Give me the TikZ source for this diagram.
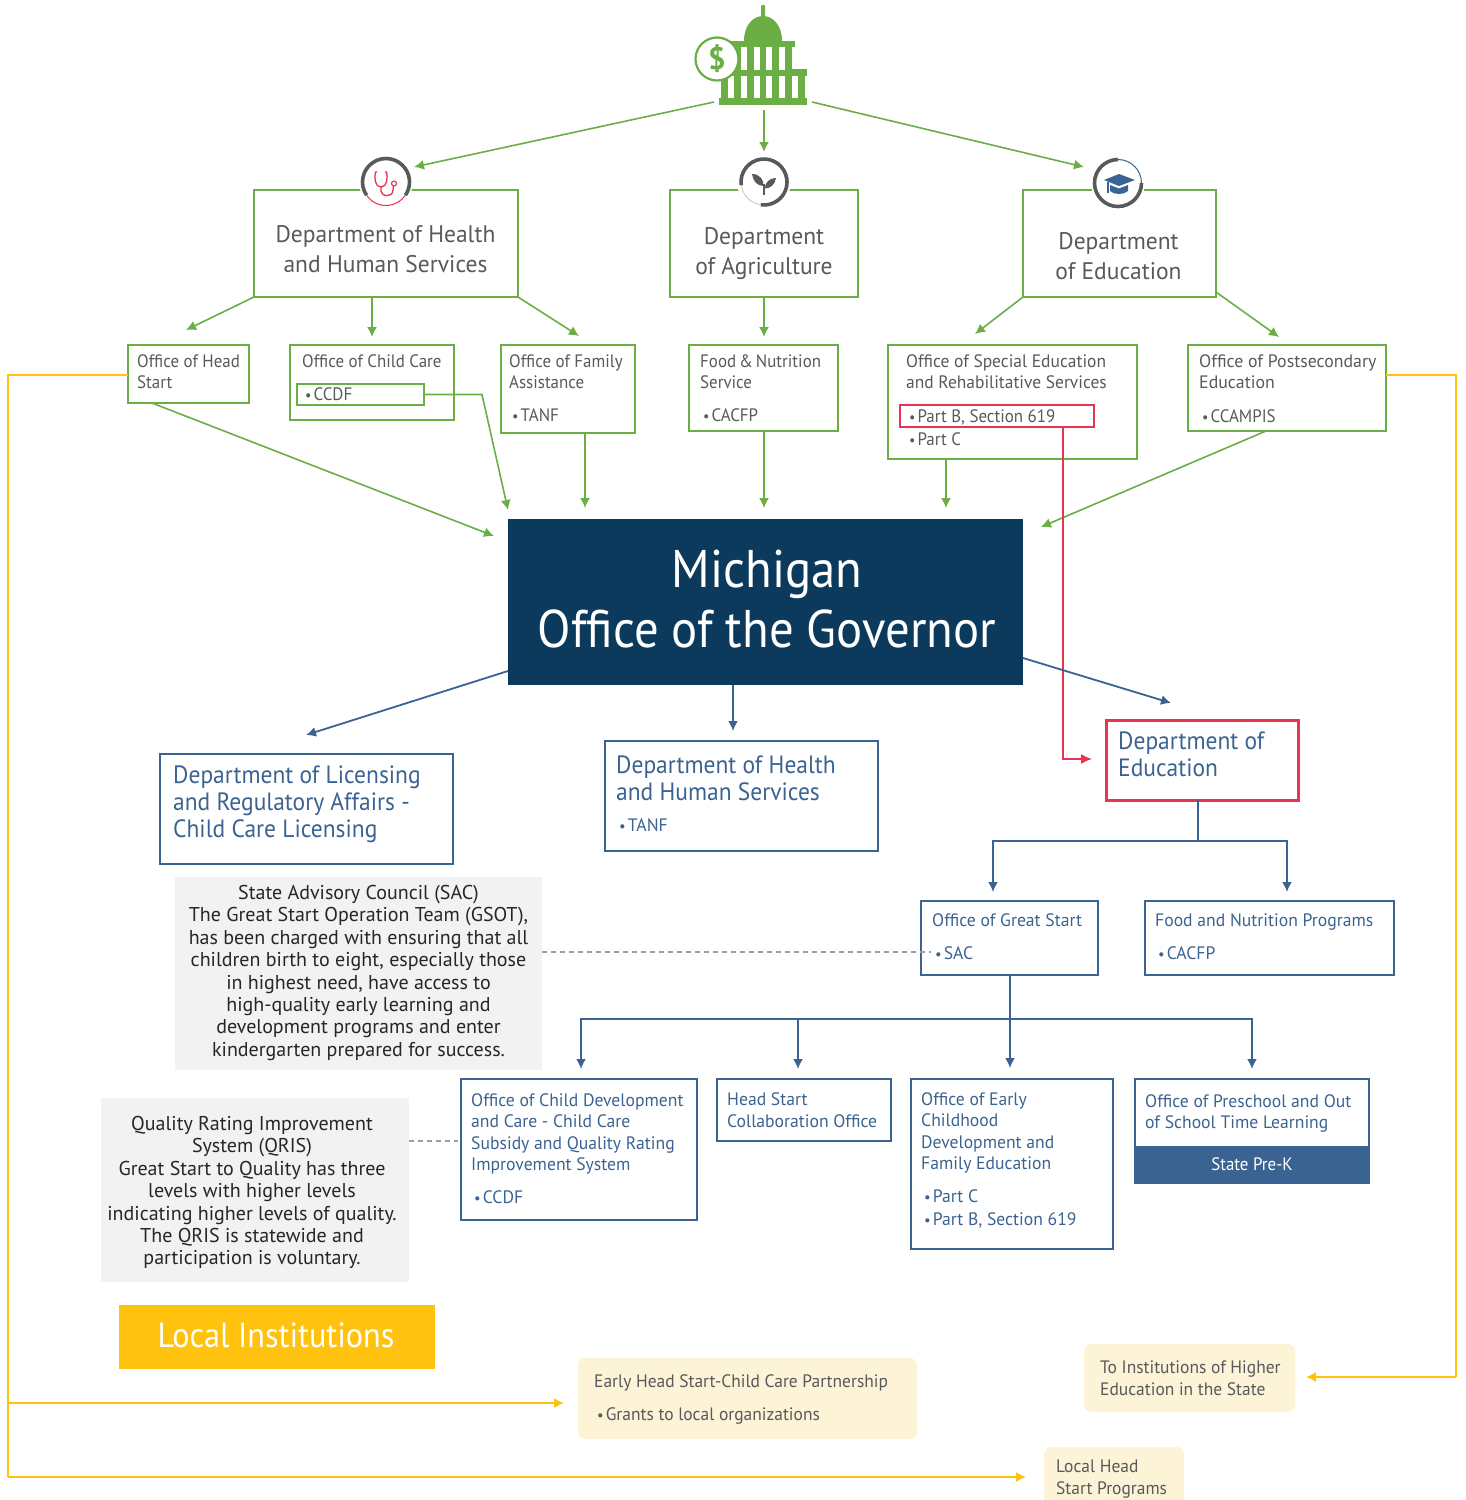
\documentclass[tikz,border=0pt]{standalone}
\usepackage{fontspec}
\setmainfont{PT Sans}
\newfontfamily\condA[FakeStretch=0.94]{PT Sans}
\newfontfamily\condB[FakeStretch=0.92]{PT Sans}
\newfontfamily\condC[FakeStretch=0.98]{PT Sans}
\newfontfamily\condD[FakeStretch=0.97]{PT Sans}
\newfontfamily\condE[FakeStretch=0.99]{PT Sans}
\usetikzlibrary{arrows.meta,calc}
\definecolor{grn}{HTML}{6AAE45}
\definecolor{gtx}{HTML}{58595B}
\definecolor{blu}{HTML}{3A6391}
\definecolor{navy}{HTML}{0B3A5C}
\definecolor{redd}{HTML}{E8344E}
\definecolor{yel}{HTML}{FFC20E}
\definecolor{crm}{HTML}{FDF3D7}
\definecolor{gry}{HTML}{F2F2F2}
\newcommand{\fsz}[2]{\fontsize{#1}{#2}\selectfont}
\newcommand{\bu}{{\fsz{15}{15}•}\hspace{2pt}}
\newcommand{\bx}[6]{\node[#6,anchor=north west,inner sep=0pt,outer sep=0pt,minimum width=\dimexpr #4pt-#2pt\relax,minimum height=\dimexpr #5pt-#3pt\relax] (#1) at (#2,#3) {};}
\tikzset{
 x=1pt,y=-1pt,
 gbox/.style={draw=grn,line width=2.4pt},
 gboxs/.style={draw=grn,line width=1.8pt},
 bbox/.style={draw=blu,line width=2.1pt},
 rbox/.style={draw=redd,line width=2pt},
 bigred/.style={draw=redd,line width=3pt},
 gfill/.style={fill=gry},
 cream/.style={fill=crm,rounded corners=7pt},
 gln/.style={draw=grn,line width=1.6pt,-{Latex[length=10pt,width=10pt]}},
 bln/.style={draw=blu,line width=1.8pt,-{Latex[length=10pt,width=10pt]}},
 rln/.style={draw=redd,line width=1.5pt,-{Latex[length=11pt,width=10pt]}},
 yln/.style={draw=yel,line width=1.7pt,-{Latex[length=10pt,width=10pt]}},
 bpl/.style={draw=blu,line width=1.8pt},
 ypl/.style={draw=yel,line width=1.7pt},
 dash gray/.style={draw=black!38,line width=2.4pt,dash pattern=on 5pt off 4pt},
 gsm/.style={text=gtx,font=\condA\fsz{18}{21.5},align=left,anchor=north west,inner sep=0pt},
 bsm/.style={text=blu,font=\condC\fsz{18}{21.6},align=left,anchor=north west,inner sep=0pt},
 dtx/.style={text=gtx,font=\condC\fsz{24}{30},align=center,anchor=center,inner sep=0pt},
 btx/.style={text=blu,font=\condA\fsz{25}{27},align=left,anchor=north west,inner sep=0pt},
 ctx/.style={text=black!85,font=\fsz{20}{22.4},align=center,anchor=north,inner sep=0pt},
 ic/.style={fill=white,draw=none},
 thk/.style={draw=gtx,line width=3.6pt},
}
\begin{document}
\begin{tikzpicture}
\useasboundingbox (0,0) rectangle (1466,1500);
% capitol icon
\fill[grn,rounded corners=1pt] (761,5) rectangle (765,20);
\fill[grn] (744,41) .. controls (744,24) and (754,16) .. (763,16) .. controls (772,16) and (782,24) .. (782,41) -- cycle;
\fill[grn] (731,41) rectangle (795,47);
\fill[grn] (731,47) rectangle (792,70);
\fill[grn] (730,69) rectangle (807,76);
\fill[grn] (721,76) rectangle (805,98);
\fill[grn] (719,98) rectangle (807,105);
\foreach \a in {741,753.5,766,779}{\fill[white] (\a,47) rectangle ++(6,22.5);}
\foreach \a in {727.5,740.5,753.5,766,779,792}{\fill[white] (\a,76) rectangle ++(6,22);}
\node[circle,draw=grn,line width=2.2pt,fill=white,minimum size=43pt,inner sep=0pt,text=grn,font=\fsz{31}{31}\bfseries] (capitol) at (717,59) {\$};
% green departments
\bx{hhs}{254}{190}{518}{297}{gbox}
\bx{agr}{670}{190}{858}{297}{gbox}
\bx{edu}{1023}{190}{1216}{297}{gbox}
\node[dtx] (hhst) at (385.5,249) {Department of Health\\and Human Services};
\node[dtx] (agrt) at (764,254) {Department\\of Agriculture};
\node[dtx] (edut) at (1118.5,256) {Department\\of Education};
% icons
\node[ic,circle,minimum size=54pt,inner sep=0pt] (ichhs) at (386,182) {};
\draw[thk] ($(ichhs.center)+(214:23.5pt)$) arc[start angle=214,end angle=-34,radius=23.5pt];
\draw[redd,line width=1pt] ($(ichhs.center)+(214:23.5pt)$) arc[start angle=214,end angle=326,radius=23.5pt];
\draw[redd,line width=1.3pt] (377,172) -- (375.5,172) .. controls (374,178) and (375,187) .. (381,187) .. controls (387,187) and (388,178) .. (386.5,172) -- (385,172);
\draw[redd,line width=1.3pt] (381,187) -- (381,191) .. controls (381,197) and (393,198) .. (393,190) -- (393.5,186);
\draw[redd,line width=1.1pt] (394,183.5) circle (2.5pt);
% agri icon
\node[ic,circle,minimum size=54pt,inner sep=0pt] (icagr) at (764,182) {};
\draw[black!20,line width=1pt] (icagr.center) circle (23pt);
\draw[thk] ($(icagr.center)+(188:23pt)$) arc[start angle=188,end angle=-98,radius=23pt];
\fill[gtx] (752,174) .. controls (760,174) and (764,180) .. (763.5,186) .. controls (757,186) and (753,181) .. (752,174) -- cycle;
\fill[gtx] (776,178) .. controls (770,178) and (765,182) .. (764.8,188.5) .. controls (771,188.5) and (775,184) .. (776,178) -- cycle;
\fill[gtx] (763.4,184) rectangle (765,195);
% education icon
\node[ic,circle,minimum size=54pt,inner sep=0pt] (icedu) at (1118,183) {};
\draw[blu,line width=1pt] ($(icedu.center)+(90:23.5pt)$) arc[start angle=90,end angle=0,radius=23.5pt];
\draw[thk] ($(icedu.center)+(90:23.5pt)$) arc[start angle=90,end angle=360,radius=23.5pt];
\fill[blu] (1104,180) -- (1119,174) -- (1135,180) -- (1119,186) -- cycle;
\fill[blu] (1110,185) -- (1119,188.5) -- (1128,185) -- (1128,191) .. controls (1124,195) and (1114,195) .. (1110,191) -- cycle;
\draw[blu,line width=1.2pt] (1108,182) -- (1108,193);
% green small boxes
\bx{hs}{128}{345}{249}{403}{gboxs}
\bx{cc}{290}{345}{454}{420}{gboxs}
\bx{ccdf}{297}{384}{424}{405}{gboxs}
\bx{fam}{501}{345}{635}{433}{gboxs}
\bx{food}{689}{345}{838}{431}{gboxs}
\bx{sped}{888}{345}{1137}{459}{gboxs}
\bx{partb}{900}{405}{1094}{427}{rbox}
\bx{post}{1188}{345}{1386}{431}{gboxs}
\node[gsm] (hst) at (137,354) {Office of Head\\Start};
\node[gsm] (cct) at (302,354) {Office of Child Care};
\node[gsm] (ccdft) at (305,387) {\bu CCDF};
\node[gsm] (famt) at (509,354) {Office of Family\\Assistance};
\node[gsm] (famb) at (512,408) {\bu TANF};
\node[gsm] (foodt) at (700,354) {Food\,\&\,Nutrition\\Service};
\node[gsm] (foodb) at (703,408) {\bu CACFP};
\node[gsm,font=\condD\fsz{18}{21.5}] (spedt) at (906,354) {Office of Special Education\\and Rehabilitative Services};
\node[gsm] (partbt) at (909,409) {\bu Part B, Section 619};
\node[gsm] (partc) at (909,432) {\bu Part C};
\node[gsm,font=\condE\fsz{18}{21.5}] (postt) at (1199,354) {Office of Postsecondary\\Education};
\node[gsm] (postb) at (1202,409) {\bu CCAMPIS};
% governor
\bx{gov}{508}{519}{1023}{685}{fill=navy}
\node[text=white,font=\condB\fsz{53}{60},align=center,inner sep=0pt] (govt) at (767,599) {Michigan\\Office of the Governor};
% blue boxes
\bx{lic}{160}{754}{453}{864}{bbox}
\bx{hhsb}{605}{741}{878}{851}{bbox}
\bx{deb}{1106}{720}{1298}{800}{bigred}
\bx{gs}{921}{901}{1098}{975}{bbox}
\bx{fn}{1145}{901}{1394}{975}{bbox}
\bx{cd}{461}{1079}{697}{1220}{bbox}
\bx{hsc}{717}{1079}{891}{1141}{bbox}
\bx{early}{911}{1079}{1113}{1249}{bbox}
\bx{pre}{1135}{1079}{1369}{1183}{bbox}
\bx{prek}{1135}{1146}{1369}{1183}{fill=blu}
\node[btx] (lict) at (173,765.5) {Department of Licensing\\and Regulatory Affairs -\\Child Care Licensing};
\node[btx] (hhsbt) at (616,756) {Department of Health\\and Human Services};
\node[bsm] (hhsbb) at (619,818) {\bu TANF};
\node[btx] (debt) at (1118,732) {Department of\\Education};
\node[bsm] (gst) at (932,913) {Office of Great Start};
\node[bsm] (gsb) at (935,946) {\bu SAC};
\node[bsm] (fnt) at (1155,913) {Food and Nutrition Programs};
\node[bsm] (fnb) at (1158,946) {\bu CACFP};
\node[bsm] (cdt) at (471,1093) {Office of Child Development\\and Care - Child Care\\Subsidy and Quality Rating\\Improvement System};
\node[bsm] (cdb) at (474,1190) {\bu CCDF};
\node[bsm] (hsct) at (727,1092.5) {Head Start\\Collaboration Office};
\node[bsm] (earlyt) at (921,1092) {Office of Early\\Childhood\\Development and\\Family Education};
\node[bsm,font=\condC\fsz{18}{23}] (earlyb) at (924,1189) {\bu Part C\\\bu Part B, Section 619};
\node[bsm] (pret) at (1145,1094) {Office of Preschool and Out\\of School Time Learning};
\node[text=white,font=\condA\fsz{18}{21},inner sep=0pt] (prekt) at (1252,1164) {State Pre-K};
% gray callouts
\bx{sac}{175}{877}{542}{1070}{gfill}
\bx{qris}{101}{1098}{409}{1282}{gfill}
\node[ctx] (sact) at (358.5,885) {State Advisory Council (SAC)\\The Great Start Operation Team (GSOT),\\has been charged with ensuring that all\\children birth to eight, especially those\\in highest need, have access to\\high-quality early learning and\\development programs and enter\\kindergarten prepared for success.};
\node[ctx] (qrist) at (252,1116) {Quality Rating Improvement\\System (QRIS)\\Great Start to Quality has three\\levels with higher levels\\indicating higher levels of quality.\\The QRIS is statewide and\\participation is voluntary.};
% local
\bx{loc}{119}{1305}{435}{1369}{fill=yel}
\node[text=white,font=\condB\fsz{35}{40},inner sep=0pt] (loct) at (276,1335) {Local Institutions};
\bx{ehs}{578}{1358}{917}{1439}{cream}
\bx{toi}{1084}{1344}{1295}{1412}{cream}
\begin{scope}
\clip (1030,1440) rectangle (1200,1500);
\bx{lhs}{1044}{1447}{1184}{1515}{cream}
\end{scope}
\node[gsm,font=\condD\fsz{18}{21.5}] (ehst) at (594,1374) {Early Head Start-Child Care Partnership};
\node[gsm,font=\condD\fsz{18}{21.5}] (ehsb) at (597,1407) {\bu Grants to local organizations};
\node[gsm,font=\condD\fsz{18}{21.5}] (toit) at (1100,1361) {To Institutions of Higher\\Education in the State};
\node[gsm,font=\condD\fsz{18}{21.5}] (lhst) at (1056,1460) {Local Head\\Start Programs};
% coordinates
\coordinate (capL) at (714,102);
\coordinate (capR) at (812,102);
\coordinate (capM) at (764,110);
\coordinate (a1) at (414,167);
\coordinate (a2) at (764,152);
\coordinate (a3) at (1084,167);
\coordinate (b1) at (186,330);
\coordinate (b3) at (579,336);
\coordinate (b4) at (975,334);
\coordinate (b5s) at (1216,292);
\coordinate (b5) at (1279,337);
\coordinate (c1) at (494,536);
\coordinate (c2m) at (482,394.5);
\coordinate (c2) at (508,510);
\coordinate (c6) at (1041,527);
\coordinate (d1s) at (508,671);
\coordinate (d1) at (306,735);
\coordinate (d3s) at (1023,658);
\coordinate (d3) at (1171,703);
\coordinate (e1) at (1198,841);
\coordinate (f1) at (1010,1019);
\coordinate (red1) at (1063,759);
\coordinate (yl1) at (8,375);
\coordinate (yl2) at (8,1477);
\coordinate (yl3) at (8,1403);
\coordinate (yr1) at (1456,375);
\coordinate (yr2) at (1456,1377);
% green connectors
\draw[gln] (capL) -- (a1);
\draw[gln] (capM) -- (a2);
\draw[gln] (capR) -- (a3);
\draw[gln] (hhs.south west) -- (b1);
\draw[gln,shorten >=8pt] (hhs.south -| cc.north) -- (cc.north);
\draw[gln] (hhs.south east) -- (b3);
\draw[gln,shorten >=8pt] (agr.south) -- (food.north -| agr.south);
\draw[gln] (edu.south west) -- (b4);
\draw[gln] (b5s) -- (b5);
\draw[gln] ($(hs.south west)+(24,0)$) -- (c1);
\draw[gln] (ccdf.east) -- (c2m) -- (c2);
\draw[gln] ($(fam.south west)+(84,0)$) -- +(0,75);
\draw[gln] (food.south -| agr.south) -- +(0,77);
\draw[gln] ($(sped.south west)+(58,0)$) -- +(0,49);
\draw[gln] ($(post.south west)+(78,0)$) -- (c6);
% red
\draw[rln] (partb.south -| red1) -- (red1) -- ($(red1)+(29,0)$);
% blue connectors
\draw[bln] (d1s) -- (d1);
\draw[bln] ($(gov.south west)+(225,0)$) -- +(0,46);
\draw[bln] (d3s) -- (d3);
\draw[bpl] (deb.south -| e1) -- (e1);
\draw[bln] (e1) -| ($(gs.north west)+(72,-9)$);
\draw[bln] (e1) -| ($(fn.north west)+(142,-9)$);
\draw[bln] ($(gs.south west)+(89,0)$) -- ($(early.north west)+(99,-11)$);
\draw[bln] (f1) -| ($(cd.north)+(2,-10)$);
\draw[bln] (f1) -| ($(hsc.north)+(-6,-10)$);
\draw[bln] (f1) -| ($(pre.north)+(0,-10)$);
% dashed
\draw[dash gray] ($(sac.north east)+(0,75)$) -- ($(gs.north west)+(10,51)$);
\draw[dash gray] ($(qris.north east)+(0,43)$) -- ($(cd.north west)+(-3,62)$);
% yellow
\draw[ypl] (hs.west |- yl1) -- (yl1) -- (yl2);
\draw[yln] (yl2) -- ($(lhs.north west)+(-18,30)$);
\draw[yln] (yl3) -- ($(ehs.north west)+(-14,45)$);
\draw[ypl] (post.east |- yr1) -- (yr1) -- (yr2);
\draw[yln] (yr2) -- ($(toi.north east)+(11,33)$);
\end{tikzpicture}
\end{document}
